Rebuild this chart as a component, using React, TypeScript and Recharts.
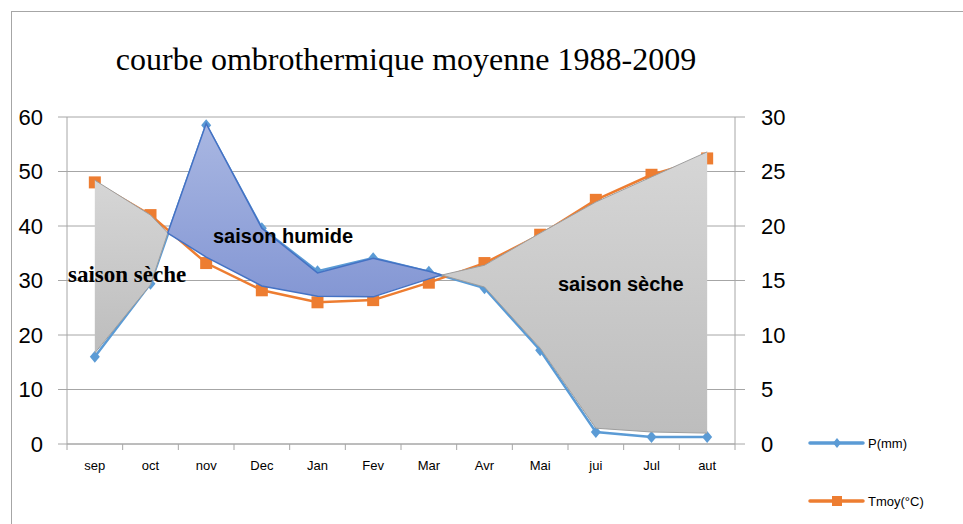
import { ComposedChart, Line, Area, XAxis, YAxis, CartesianGrid } from "recharts";

// monthly means 1988-2009
const MONTHS = ["sep", "oct", "nov", "Dec", "Jan", "Fev", "Mar", "Avr", "Mai", "jui", "Jul", "aut"];
const P_MM = [16, 29.4, 58.5, 39.6, 31.7, 34.1, 31.6, 28.6, 17.2, 2.2, 1.3, 1.3];
const T_MOY = [24, 21, 16.6, 14.1, 13, 13.2, 14.8, 16.6, 19.2, 22.4, 24.7, 26.2];

const P_TICKS = [0, 10, 20, 30, 40, 50, 60];
const T_TICKS = [0, 5, 10, 15, 20, 25, 30];
const X_TICKS = [0, 1, 2, 3, 4, 5, 6, 7, 8, 9, 10, 11, 12];

// season shapes drawn by hand over the curves (x in months, values in mm)
const DRY1_X = [0.5, 1.5, 1.81];
const DRY1_LOW = [16.7, 29.2, 38.7];
const DRY1_HIGH = [48.4, 42, 38.7];
const WET_X = [1.81, 2.5, 3.5, 4.5, 5.5, 6.5, 6.73];
const WET_LOW = [38.7, 34.3, 29, 27.1, 27, 30.3, 31];
const WET_HIGH = [38.7, 58.8, 39.6, 31.4, 34.1, 31.7, 31];
const DRY2_X = [6.73, 7.5, 8.5, 9.5, 10.5, 11.5];
const DRY2_LOW = [31, 28.8, 17.6, 2.9, 2.2, 2.0];
const DRY2_HIGH = [31, 32.8, 38.7, 44.4, 49, 53.6];

const BLUE = "#5b9bd5";
const ORANGE = "#ed7d31";
const GRID = "#a6a6a6";

const W = 963;
const H = 524;
const TOP = 117;
const LEFT_W = 67;
const RIGHT_W = 228;
const X_H = 30;
const BOTTOM = 50;
const BAND = (W - LEFT_W - RIGHT_W) / 12;

const monthly = MONTHS.map((m, i) => ({ x: i + 0.5, month: m, p: P_MM[i], t: T_MOY[i] }));
const shape = (xs: number[], lo: number[], hi: number[]) =>
  xs.map((x, i) => ({ x, r: [lo[i], hi[i]] }));

const dry1 = shape(DRY1_X, DRY1_LOW, DRY1_HIGH);
const wet = shape(WET_X, WET_LOW, WET_HIGH);
const dry2 = shape(DRY2_X, DRY2_LOW, DRY2_HIGH);

const Diamond = (props: any) => {
  const { cx, cy, index } = props;
  if (cx == null || cy == null) return null;
  return (
    <polygon
      key={`p-${index}`}
      points={`${cx},${cy - 6} ${cx + 5},${cy} ${cx},${cy + 6} ${cx - 5},${cy}`}
      fill={BLUE}
    />
  );
};

const Square = (props: any) => {
  const { cx, cy, index } = props;
  if (cx == null || cy == null) return null;
  return <rect key={`t-${index}`} x={cx - 6} y={cy - 6} width={12} height={12} fill={ORANGE} />;
};

const MonthTick = (props: any) => {
  const { x, y, payload } = props;
  const i = payload.value;
  return (
    <g>
      <line x1={x} x2={x} y1={y} y2={y + 6} stroke={GRID} />
      {i < 12 && (
        <text
          x={x + BAND / 2}
          y={y + 21}
          textAnchor="middle"
          dominantBaseline="central"
          fontSize={13}
          fill="#000"
          fontFamily="Liberation Sans, Arial, sans-serif"
        >
          {MONTHS[i]}
        </text>
      )}
    </g>
  );
};

const axisTick = { fill: "#000", fontSize: 22, fontFamily: "Liberation Sans, Arial, sans-serif" };

const seasonArea = (data: any[], fill: string, stroke: string, sw: number) => (
  <Area
    data={data}
    dataKey="r"
    type="linear"
    fill={fill}
    fillOpacity={1}
    stroke={stroke}
    strokeWidth={sw}
    activeDot={false}
    isAnimationActive={false}
  />
);

export default function App() {
  return (
    <div style={{ position: "absolute", left: 0, top: 0, width: W, height: H, overflow: "hidden", background: "#fff" }}>
      <div style={{ position: "absolute", left: 11, top: 11, width: 1000, height: 600, border: `1px solid ${GRID}` }} />

      {/* axes, grid and the two curves */}
      <div style={{ position: "absolute", left: 0, top: 0 }}>
        <ComposedChart width={W} height={H} data={monthly} margin={{ top: TOP, right: 0, bottom: BOTTOM, left: 0 }}>
          <CartesianGrid yAxisId="left" vertical={false} stroke={GRID} />
          <XAxis
            dataKey="x"
            type="number"
            domain={[0, 12]}
            ticks={X_TICKS}
            interval={0}
            height={X_H}
            tickSize={0}
            tickMargin={0}
            tickLine={false}
            axisLine={{ stroke: GRID }}
            tick={<MonthTick />}
            allowDataOverflow
          />
          <YAxis
            yAxisId="left"
            width={LEFT_W}
            domain={[0, 60]}
            ticks={P_TICKS}
            interval={0}
            tickSize={9}
            tickMargin={15}
            axisLine={{ stroke: GRID }}
            tickLine={{ stroke: GRID }}
            tick={axisTick}
          />
          <YAxis
            yAxisId="right"
            orientation="right"
            width={RIGHT_W}
            domain={[0, 30]}
            ticks={T_TICKS}
            interval={0}
            tickSize={10}
            tickMargin={16}
            axisLine={{ stroke: GRID }}
            tickLine={{ stroke: GRID }}
            tick={{ ...axisTick, textAnchor: "start" }}
          />
          <Line
            yAxisId="left"
            dataKey="p"
            type="linear"
            stroke={BLUE}
            strokeWidth={2.5}
            dot={Diamond}
            activeDot={false}
            isAnimationActive={false}
          />
          <Line
            yAxisId="right"
            dataKey="t"
            type="linear"
            stroke={ORANGE}
            strokeWidth={2.5}
            dot={Square}
            activeDot={false}
            isAnimationActive={false}
          />
        </ComposedChart>
      </div>

      {/* season shapes sit on top of the curves, same plot box */}
      <div style={{ position: "absolute", left: 0, top: 0 }}>
        <ComposedChart
          width={W}
          height={H}
          margin={{ top: TOP, right: RIGHT_W, bottom: BOTTOM + X_H, left: LEFT_W }}
        >
          <defs>
            <linearGradient id="gray" x1="0" y1="0" x2="0" y2="1">
              <stop offset="0%" stopColor="#d6d6d6" />
              <stop offset="100%" stopColor="#bdbdbd" />
            </linearGradient>
            <linearGradient id="blue" x1="0" y1="0" x2="0" y2="1">
              <stop offset="0%" stopColor="#a9b7e2" />
              <stop offset="100%" stopColor="#8497d4" />
            </linearGradient>
          </defs>
          <XAxis dataKey="x" type="number" domain={[0, 12]} hide allowDataOverflow />
          <YAxis domain={[0, 60]} hide />
          {seasonArea(dry1, "url(#gray)", "#9e9e9e", 1)}
          {seasonArea(wet, "url(#blue)", "#4472c4", 1.5)}
          {seasonArea(dry2, "url(#gray)", "#9e9e9e", 1)}
        </ComposedChart>
      </div>

      <svg width={W} height={H} style={{ position: "absolute", left: 0, top: 0, pointerEvents: "none" }}>
        <text x={406} y={70} textAnchor="middle" fontSize={32} fontFamily="Liberation Serif, Times New Roman, serif">
          courbe ombrothermique moyenne 1988-2009
        </text>
        <text x={68} y={282} fontSize={23} fontWeight="bold" fontFamily="Liberation Serif, Times New Roman, serif">
          saison sèche
        </text>
        <text x={213} y={243} fontSize={20} fontWeight="bold" fontFamily="Liberation Sans, Arial, sans-serif">
          saison humide
        </text>
        <text x={558} y={291} fontSize={20} fontWeight="bold" fontFamily="Liberation Sans, Arial, sans-serif">
          saison sèche
        </text>
        <line x1={810} x2={863} y1={443} y2={443} stroke={BLUE} strokeWidth={3.5} strokeLinecap="round" />
        <polygon points="837,438 841,443 837,448 833,443" fill={BLUE} />
        <text x={868} y={448} fontSize={13} fontFamily="Liberation Sans, Arial, sans-serif">P(mm)</text>
        <line x1={810} x2={863} y1={501} y2={501} stroke={ORANGE} strokeWidth={3.5} strokeLinecap="round" />
        <rect x={832} y={496} width={10} height={10} fill={ORANGE} />
        <text x={868} y={506} fontSize={13} fontFamily="Liberation Sans, Arial, sans-serif">Tmoy(°C)</text>
      </svg>
    </div>
  );
}
